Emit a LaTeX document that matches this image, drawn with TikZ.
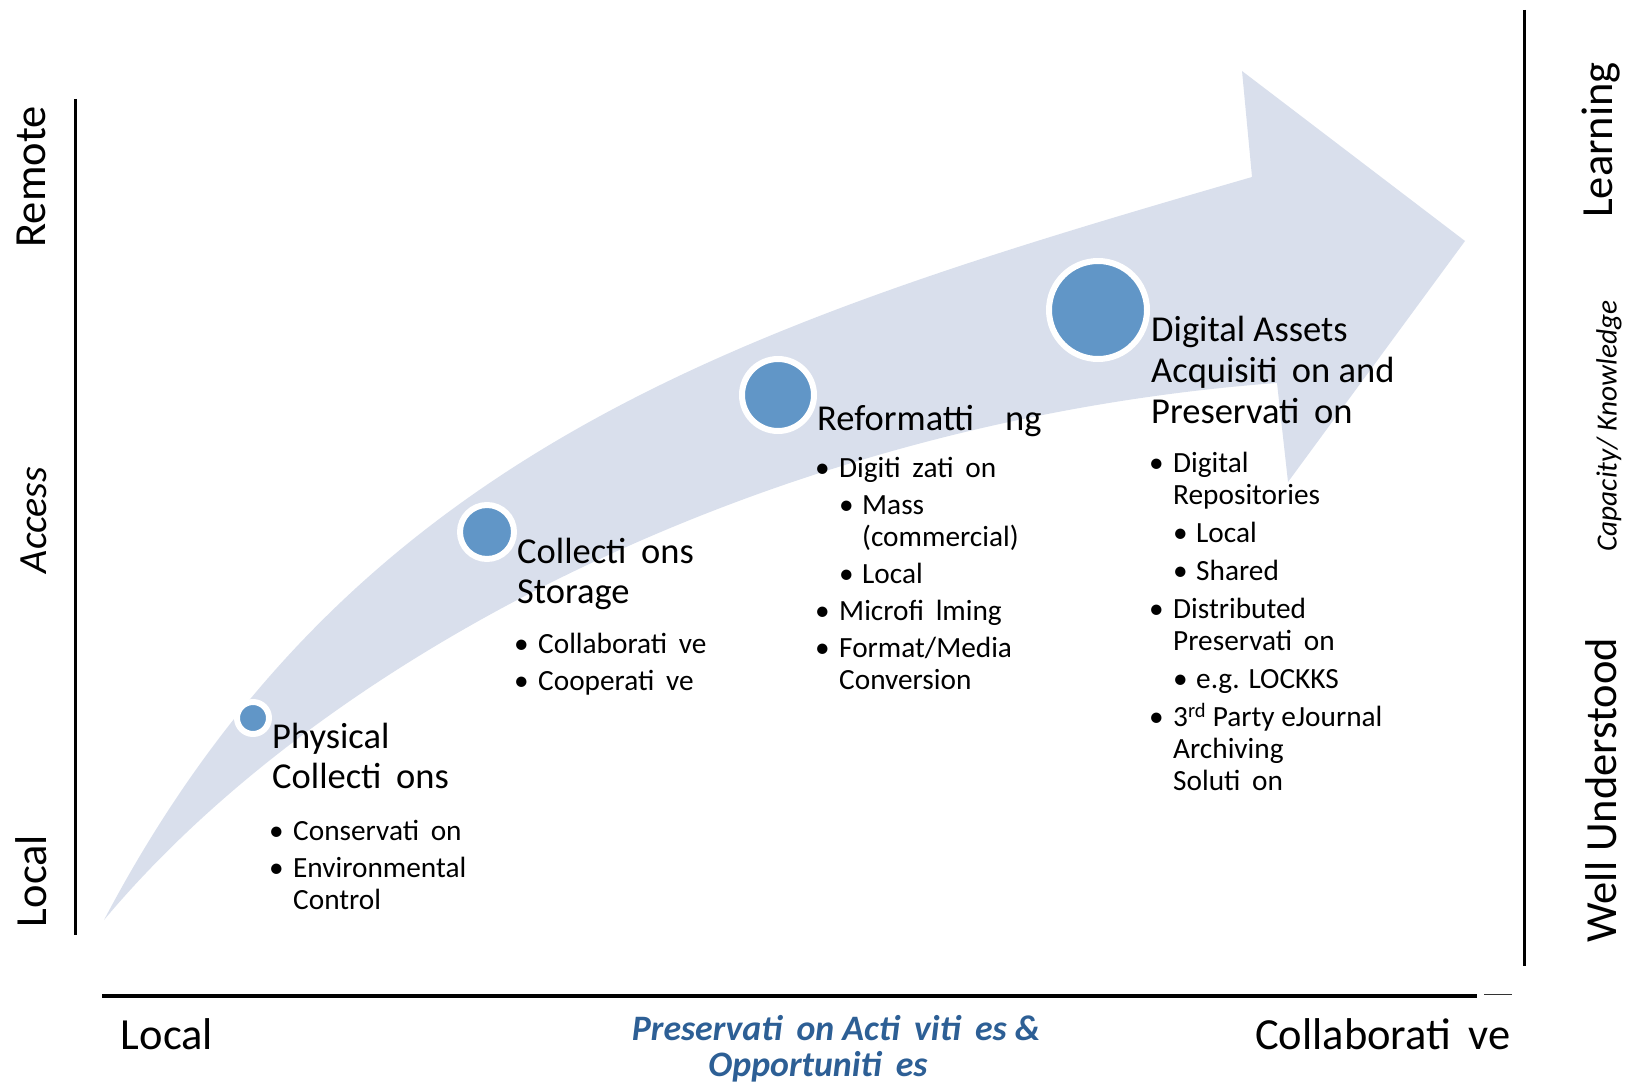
\documentclass[tikz,border=0pt]{standalone}
\usepackage{fontspec}
\setmainfont{Carlito}
\usetikzlibrary{positioning}

\definecolor{arrowfill}{RGB}{217,223,236}
\definecolor{dotblue}{RGB}{97,150,199}
\definecolor{labelblue}{RGB}{45,95,149}

% gap left where the ti ligature drops out
\newcommand{\gp}{\hspace{0.4em}}
\newcommand{\bitem}{\makebox[24pt][l]{\textbullet}}
\newcommand{\bcont}{\hspace{24pt}}
\newcommand{\bsub}{\makebox[23pt][l]{\textbullet}}
\newcommand{\bsubcont}{\hspace{23pt}}

\begin{document}
\begin{tikzpicture}[x=1pt, y=-1pt]

        % Styles
        \tikzset{
          stage/.style={circle, fill=dotblue, draw=white, line width=6pt, inner sep=0pt},
          heading/.style={anchor=base west, inner sep=0pt, font=\fontsize{36.5}{40}\selectfont},
          items/.style={anchor=base west, inner sep=0pt, font=\fontsize{29.3}{32}\selectfont},
          axislabel/.style={inner sep=0pt, font=\fontsize{44.5}{52}\selectfont},
          axisline/.style={line width=3pt}
        }

        \useasboundingbox (0,0) rectangle (1629,1086);

        % Big arrow
        \fill[arrowfill] (104,920) .. controls (354,445) and (752,322) .. (1252,177)
          -- (1242,71) -- (1465,241) -- (1288,482) -- (1277,383)
          .. controls (780,420) and (330,650) .. (104,920) -- cycle;

        % Axes
        \draw[axisline] (75,99) -- (75,935);
        \draw[axisline] (1524,10) -- (1524,966);
        \draw[line width=4pt] (102,996) -- (1477,996);
        \draw[line width=1pt, black!80] (1484,994) -- (1512,994);

        % Axis labels
        \node[axislabel, rotate=90] (remote) at (31,177) {Remote};
        \node[axislabel, rotate=90, font=\fontsize{40}{48}\selectfont\itshape] (access) at (34,520) {Access};
        \node[axislabel, rotate=90] (near) at (31,881) {Local};
        \node[axislabel, rotate=90] (learning) at (1601,140) {Learning};
        \node[axislabel, rotate=90, font=\fontsize{29.3}{34}\selectfont\itshape] (capacity) at (1609,426) {Capacity/ Knowledge};
        \node[axislabel, rotate=90] (understood) at (1601,790) {Well Understood};
        \node[axislabel] (local) at (167,1034) {Local};
        \node[axislabel] (collab) at (1383,1034) {Collaborati\gp ve};
        \node[inner sep=0pt, text=labelblue, font=\fontsize{35.8}{42}\selectfont\bfseries\itshape] (activities) at (836,1028) {Preservati\gp on Acti\gp viti\gp es \&};
        \node[inner sep=0pt, text=labelblue, font=\fontsize{35.8}{42}\selectfont\bfseries\itshape] (opps) at (818,1067) {Opportuniti\gp es};

        % Stages
        \node[stage, minimum size=32pt] (physical) at (253,718) {};
        \node[stage, minimum size=54pt] (storage) at (487,532) {};
        \node[stage, minimum size=72pt] (reformat) at (778,395) {};
        \node[stage, minimum size=98pt] (digital) at (1098,310) {};

        % Stage texts
        \node[heading] (physicalhead) at (272,748) {\begin{tabular}[t]{@{}l@{}}Physical\\ Collecti\gp ons\end{tabular}};
        \node[items] (physicallist) at (269,840) {\begin{tabular}[t]{@{}l@{}}
          \bitem Conservati\gp on\\[5pt]
          \bitem Environmental\\
          \bcont Control\end{tabular}};

        \node[heading] (storagehead) at (517,563) {\begin{tabular}[t]{@{}l@{}}Collecti\gp ons\\ Storage\end{tabular}};
        \node[items] (storagelist) at (514,653) {\begin{tabular}[t]{@{}l@{}}
          \bitem Collaborati\gp ve\\[5pt]
          \bitem Cooperati\gp ve\end{tabular}};

        \node[heading] (reformathead) at (817,430) {Reformatti\hspace{0.85em}ng};
        \node[items] (reformatlist) at (815,477) {\begin{tabular}[t]{@{}l@{}}
          \bitem Digiti\gp zati\gp on\\[5pt]
          \bcont\bsub Mass\\
          \bcont\bsubcont (commercial)\\[5pt]
          \bcont\bsub Local\\[5pt]
          \bitem Microfi\gp lming\\[5pt]
          \bitem Format/Media\\
          \bcont Conversion\end{tabular}};

        \node[heading, font=\fontsize{36.5}{41}\selectfont] (digitalhead) at (1151,341) {\begin{tabular}[t]{@{}l@{}}Digital Assets\\ Acquisiti\gp on and\\ Preservati\gp on\end{tabular}};
        \node[items] (digitallist) at (1149,472) {\begin{tabular}[t]{@{}l@{}}
          \bitem Digital\\
          \bcont Repositories\\[6pt]
          \bcont\bsub Local\\[6pt]
          \bcont\bsub Shared\\[6pt]
          \bitem Distributed\\
          \bcont Preservati\gp on\\[6pt]
          \bcont\bsub e.g. LOCKKS\\[6pt]
          \bitem 3\textsuperscript{rd} Party eJournal\\
          \bcont Archiving\\
          \bcont Soluti\gp on\end{tabular}};

\end{tikzpicture}
\end{document}
